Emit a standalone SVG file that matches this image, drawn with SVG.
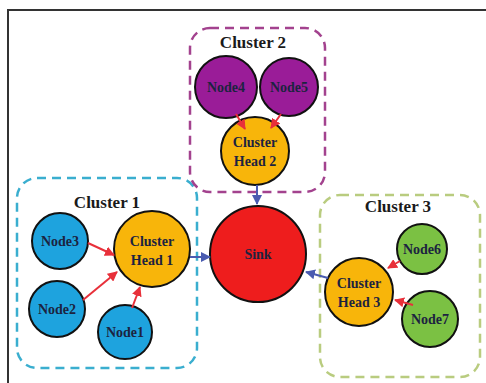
<svg xmlns="http://www.w3.org/2000/svg" width="486" height="383" viewBox="0 0 486 383">
<defs>
<marker id="ar" viewBox="0 0 10 10" refX="9" refY="5" markerWidth="5" markerHeight="5" orient="auto"><path d="M0,0 L10,5 L0,10 z" fill="#e8303a"/></marker>
<marker id="ab" viewBox="0 0 10 10" refX="9" refY="5" markerWidth="5" markerHeight="5" orient="auto"><path d="M0,0 L10,5 L0,10 z" fill="#4a5bb0"/></marker>
</defs>
<style>
.bg{fill:#ffffff}
.frame{fill:none;stroke:#333;stroke-width:2}
.cl{fill:none;stroke-width:2.5;stroke-dasharray:9 6}
.c1{stroke:#3aaecf}.c2{stroke:#a3428e}.c3{stroke:#b9cc7f}
.n{stroke:#111;stroke-width:2}
.blue{fill:#1ea3de}.pur{fill:#9a1c98}.yel{fill:#f8b50a}.red{fill:#ee1d1d}.grn{fill:#7bc143}
.t{font-family:"Liberation Serif","Times New Roman",serif;font-weight:bold;text-anchor:middle}
.nt{font-size:14px;fill:#1c2340}
.ct{font-size:17px;fill:#1a1a1a}
.er{stroke:#e8303a;stroke-width:2;fill:none;marker-end:url(#ar)}
.eb{stroke:#4a5bb0;stroke-width:2;fill:none;marker-end:url(#ab)}
</style>
<rect class="bg" width="486" height="383"/>
<path class="frame" d="M8,383 V10 H486"/>
<g id="cluster1"><rect class="cl c1" x="17" y="178" width="180" height="190" rx="20"/><text class="t ct" x="107" y="208">Cluster 1</text></g>
<g id="cluster2"><rect class="cl c2" x="190" y="28" width="135" height="164" rx="20"/><text class="t ct" x="253" y="48">Cluster 2</text></g>
<g id="cluster3"><rect class="cl c3" x="320" y="195" width="160" height="182" rx="20"/><text class="t ct" x="398" y="212">Cluster 3</text></g>
<g id="node4"><circle class="n pur" cx="226" cy="87" r="31"/><text class="t nt" x="226" y="92">Node4</text></g>
<g id="node5"><circle class="n pur" cx="289" cy="87" r="29"/><text class="t nt" x="289" y="92">Node5</text></g>
<g id="ch2"><circle class="n yel" cx="255" cy="151" r="34"/><text class="t nt" x="255" y="147">Cluster</text><text class="t nt" x="255" y="166">Head 2</text></g>
<g id="sink"><circle class="n red" cx="258" cy="254" r="48"/><text class="t nt" x="258" y="259">Sink</text></g>
<g id="ch1"><circle class="n yel" cx="152" cy="249" r="38"/><text class="t nt" x="152" y="246">Cluster</text><text class="t nt" x="152" y="265">Head 1</text></g>
<g id="node3"><circle class="n blue" cx="60" cy="241" r="28"/><text class="t nt" x="60" y="246">Node3</text></g>
<g id="node2"><circle class="n blue" cx="57" cy="309" r="28"/><text class="t nt" x="57" y="314">Node2</text></g>
<g id="node1"><circle class="n blue" cx="125" cy="332" r="27"/><text class="t nt" x="125" y="337">Node1</text></g>
<g id="ch3"><circle class="n yel" cx="359" cy="292" r="34"/><text class="t nt" x="359" y="288">Cluster</text><text class="t nt" x="359" y="307">Head 3</text></g>
<g id="node6"><circle class="n grn" cx="422" cy="249" r="25"/><text class="t nt" x="422" y="254">Node6</text></g>
<g id="node7"><circle class="n grn" cx="430" cy="319" r="28"/><text class="t nt" x="430" y="324">Node7</text></g>
<g id="edges">
<line class="er" x1="236" y1="114" x2="245" y2="129"/>
<line class="er" x1="281" y1="114" x2="271" y2="128"/>
<line class="eb" x1="257" y1="185" x2="257" y2="204"/>
<line class="er" x1="88" y1="243" x2="114" y2="255"/>
<line class="er" x1="83" y1="300" x2="117" y2="272"/>
<line class="er" x1="132" y1="308" x2="140" y2="287"/>
<line class="eb" x1="190" y1="257" x2="210" y2="257"/>
<line class="eb" x1="328" y1="278" x2="306" y2="272"/>
<line class="er" x1="400" y1="261" x2="388" y2="268"/>
<line class="er" x1="413" y1="305" x2="395" y2="300"/>
</g>
</svg>
